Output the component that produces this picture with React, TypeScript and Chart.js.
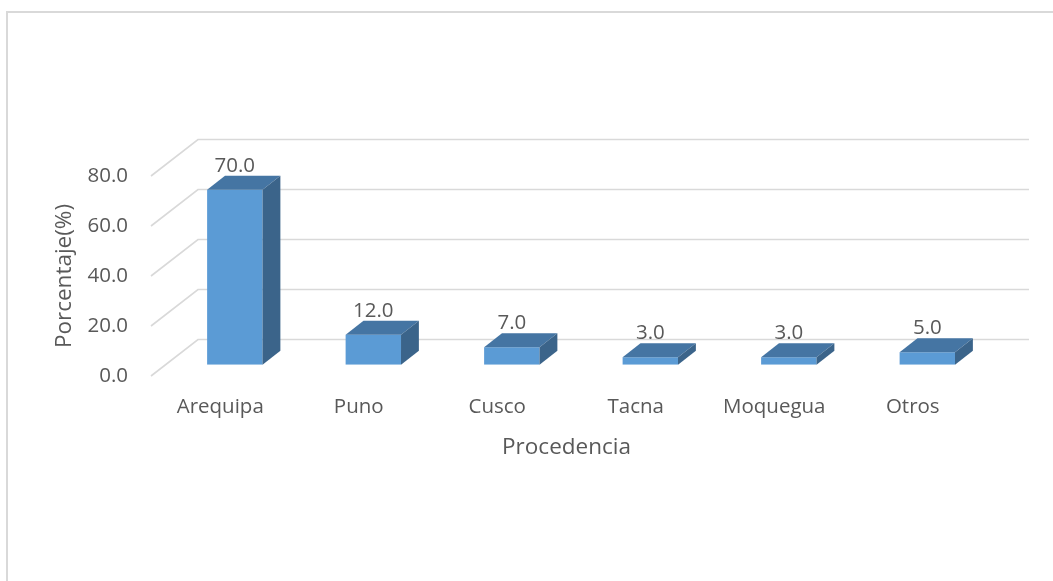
import React, { useEffect, useRef } from "react";
import { Chart, registerables } from "chart.js";

Chart.register(...registerables);

// ---- data ----
const categories = ["Arequipa", "Puno", "Cusco", "Tacna", "Moquegua", "Otros"];
const percentages = [70.0, 12.0, 7.0, 3.0, 3.0, 5.0];
const yMin = 0;
const yMax = 80;
const yStep = 20;
const xTitle = "Procedencia";
const yTitle = "Porcentaje(%)";

// ---- style ----
const FONT = "'Open Sans', 'Noto Sans', sans-serif";
const TEXT = "#595959";
const GRID = "#d9d9d9";
const FRONT = "#5B9BD5";
const TOP = "#4575A3";
const SIDE = "#3B648A";
const DEPTH = { x: 47, y: -36.5 };
const BAR_FRONT = 0.31;
const BAR_DEPTH = 0.38;

const bar3d = {
  id: "bar3d",
  beforeDraw(chart: any) {
    const { ctx } = chart;
    ctx.save();
    ctx.strokeStyle = GRID;
    ctx.lineWidth = 2;
    ctx.beginPath();
    ctx.moveTo(7, chart.height + 5);
    ctx.lineTo(7, 12);
    ctx.lineTo(chart.width + 5, 12);
    ctx.stroke();
    ctx.restore();
  },
  beforeDatasetsDraw(chart: any) {
    const { ctx, chartArea } = chart;
    const y = chart.scales.y;
    ctx.save();
    ctx.strokeStyle = GRID;
    ctx.lineWidth = 1.6;
    y.ticks.forEach((t: any) => {
      const py = y.getPixelForValue(t.value);
      ctx.beginPath();
      ctx.moveTo(chartArea.left, py);
      ctx.lineTo(chartArea.left + DEPTH.x, py + DEPTH.y);
      ctx.lineTo(chartArea.right + DEPTH.x, py + DEPTH.y);
      ctx.stroke();
    });
    ctx.restore();
    ctx.save();
    ctx.translate(DEPTH.x * BAR_FRONT, DEPTH.y * BAR_FRONT);
  },
  afterDatasetsDraw(chart: any) {
    const { ctx } = chart;
    ctx.restore();
    const meta = chart.getDatasetMeta(0);
    const values = chart.data.datasets[0].data as number[];
    const fx = DEPTH.x * BAR_FRONT;
    const fy = DEPTH.y * BAR_FRONT;
    const dx = DEPTH.x * BAR_DEPTH;
    const dy = DEPTH.y * BAR_DEPTH;
    const poly = (pts: number[][], color: string) => {
      ctx.beginPath();
      ctx.moveTo(pts[0][0], pts[0][1]);
      for (let k = 1; k < pts.length; k++) ctx.lineTo(pts[k][0], pts[k][1]);
      ctx.closePath();
      ctx.fillStyle = color;
      ctx.fill();
    };
    ctx.save();
    meta.data.forEach((el: any, i: number) => {
      const { x, y, base, width } = el.getProps(["x", "y", "base", "width"], true);
      const l = x - width / 2 + fx;
      const r = x + width / 2 + fx;
      const t = y + fy;
      const b = base + fy;
      poly([[l, t], [r, t], [r + dx, t + dy], [l + dx, t + dy]], TOP);
      poly([[r, t], [r + dx, t + dy], [r + dx, b + dy], [r, b]], SIDE);
      ctx.fillStyle = TEXT;
      ctx.font = `20.5px ${FONT}`;
      ctx.textAlign = "center";
      ctx.textBaseline = "alphabetic";
      ctx.fillText(values[i].toFixed(1), x + fx, t + dy - 4);
    });
    ctx.restore();
  },
};

export default function App() {
  const ref = useRef<HTMLCanvasElement | null>(null);
  useEffect(() => {
    if (!ref.current) return;
    const chart = new Chart(ref.current, {
      type: "bar",
      data: {
        labels: categories,
        datasets: [
          {
            data: percentages,
            backgroundColor: FRONT,
            borderWidth: 0,
            categoryPercentage: 1,
            barPercentage: 0.4,
          },
        ],
      },
      options: {
        responsive: false,
        animation: false,
        events: [],
        layout: { padding: { left: 0, top: 176, right: 71, bottom: 115 } },
        plugins: {
          legend: { display: false },
          tooltip: { enabled: false },
          title: { display: false },
        },
        scales: {
          x: {
            grid: { display: false, drawTicks: false },
            border: { display: false },
            ticks: {
              color: TEXT,
              font: { family: FONT, size: 20.5 },
              padding: 19,
              maxRotation: 0,
              autoSkip: false,
            },
            title: {
              display: true,
              text: xTitle,
              color: TEXT,
              font: { family: FONT, size: 22.5 },
              padding: { top: 0, bottom: 5 },
            },
            afterFit: (s: any) => {
              s.height = 90;
            },
          },
          y: {
            min: yMin,
            max: yMax,
            grid: { display: false, drawTicks: false },
            border: { display: false },
            ticks: {
              stepSize: yStep,
              color: TEXT,
              font: { family: FONT, size: 20.5 },
              padding: 23,
              callback: (v: any) => Number(v).toFixed(1),
            },
            title: {
              display: true,
              text: yTitle,
              color: TEXT,
              font: { family: FONT, size: 22.5 },
              padding: { top: 51, bottom: 0 },
            },
            afterFit: (s: any) => {
              s.width = 151;
            },
          },
        },
      },
      plugins: [bar3d],
    });
    return () => chart.destroy();
  }, []);
  return (
    <div style={{ position: "absolute", left: 0, top: 0, width: 1053, height: 581, background: "#fff" }}>
      <canvas ref={ref} width={1053} height={581} style={{ display: "block" }} />
    </div>
  );
}
